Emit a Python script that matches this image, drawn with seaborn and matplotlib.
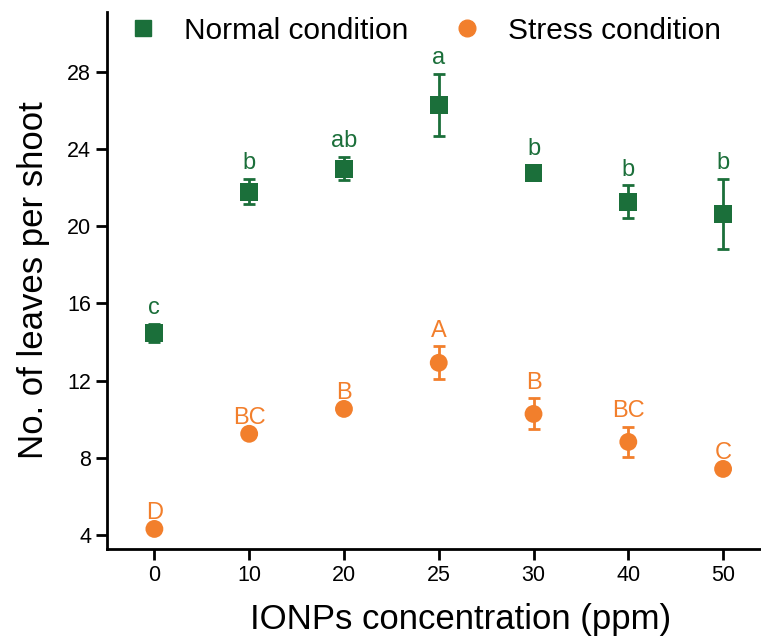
import matplotlib
matplotlib.use("Agg")
import matplotlib.pyplot as plt
import seaborn as sns
import pandas as pd
from matplotlib.lines import Line2D

concentrations = ["0", "10", "20", "25", "30", "40", "50"]
normal_mean = [14.47, 21.78, 22.97, 26.29, 22.77, 21.26, 20.64]
normal_err = [0.45, 0.65, 0.6, 1.6, 0.4, 0.85, 1.8]
normal_letters = ["c", "b", "ab", "a", "b", "b", "b"]
stress_mean = [4.31, 9.24, 10.53, 12.92, 10.27, 8.82, 7.42]
stress_err = [0.0, 0.0, 0.0, 0.85, 0.8, 0.78, 0.0]
stress_letters = ["D", "BC", "B", "A", "B", "BC", "C"]
yticks = [4, 8, 12, 16, 20, 24, 28]

GREEN = "#1b6f3a"
ORANGE = "#f27f2c"

sns.set_theme(style="ticks")
plt.rcParams["font.family"] = ["Liberation Sans", "DejaVu Sans"]
for k in ["text.color", "axes.labelcolor", "xtick.color", "ytick.color", "axes.edgecolor"]:
    plt.rcParams[k] = "black"

df = pd.DataFrame({
    "conc": concentrations * 2,
    "mean": normal_mean + stress_mean,
    "err": normal_err + stress_err,
    "cond": ["Normal condition"] * 7 + ["Stress condition"] * 7,
    "letter": normal_letters + stress_letters,
})
df["pos"] = df["conc"].map({c: i for i, c in enumerate(concentrations)})

fig = plt.figure(figsize=(7.61, 6.44), dpi=100)
ax = fig.add_axes([107 / 761, 1 - 549 / 644, (761 - 107) / 761, (549 - 12) / 644])

sns.scatterplot(data=df, x="pos", y="mean", hue="cond", style="cond",
                markers={"Normal condition": "s", "Stress condition": "o"},
                palette={"Normal condition": GREEN, "Stress condition": ORANGE},
                s=165, edgecolor="none", legend=False, ax=ax, zorder=3)

for cond, color in [("Normal condition", GREEN), ("Stress condition", ORANGE)]:
    sub = df[df["cond"] == cond]
    ax.errorbar(sub["pos"], sub["mean"], yerr=sub["err"], fmt="none",
                ecolor=color, elinewidth=2, capsize=4, capthick=2, zorder=2)
    for _, r in sub.iterrows():
        ax.text(r["pos"], r["mean"] + r["err"] + 0.25, r["letter"], color=color,
                ha="center", va="bottom", fontsize=17)

ax.set_xlim(-0.5, 6.4)
ax.set_ylim(3.27, 31.1)
ax.set_xticks(range(len(concentrations)))
ax.set_xticklabels(concentrations)
ax.set_yticks(yticks)
ax.tick_params(axis="both", labelsize=15.5, width=2, length=8, direction="out", color="black")
for sp in ["top", "right"]:
    ax.spines[sp].set_visible(False)
for sp in ["left", "bottom"]:
    ax.spines[sp].set_linewidth(2)
    ax.spines[sp].set_color("black")
ax.set_xlabel("IONPs concentration (ppm)", fontsize=25)
ax.xaxis.set_label_coords((461 - 107) / 654, -0.10)
ax.set_ylabel("No. of leaves per shoot", fontsize=25, labelpad=12)

handles = [
    Line2D([], [], marker="s", color=GREEN, linestyle="none", markersize=11),
    Line2D([], [], marker="o", color=ORANGE, linestyle="none", markersize=12),
]
ax.legend(handles, ["Normal condition", "Stress condition"], ncol=2, frameon=False,
          fontsize=21.5, loc="upper left", bbox_to_anchor=(0.0, 1.03),
          handlelength=1.0, handletextpad=0.87, columnspacing=1.47, borderaxespad=0.3)

fig.savefig("out.png", dpi=100)
